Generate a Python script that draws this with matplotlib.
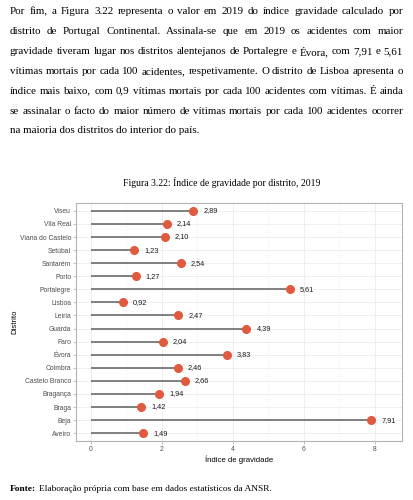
import matplotlib
matplotlib.use('Agg')
import matplotlib.pyplot as plt

# dados do gráfico
distritos = ['Aveiro', 'Beja', 'Braga', 'Bragança', 'Castelo Branco', 'Coimbra', 'Évora',
             'Faro', 'Guarda', 'Leiria', 'Lisboa', 'Portalegre', 'Porto', 'Santarém',
             'Setúbal', 'Viana do Castelo', 'Vila Real', 'Viseu']
indice = [1.49, 7.91, 1.42, 1.94, 2.66, 2.46, 3.83, 2.04, 4.39, 2.47, 0.92, 5.61, 1.27,
          2.54, 1.23, 2.10, 2.14, 2.89]
xticks = [0, 2, 4, 6, 8]

paragrafo = [
    "Por fim, a Figura 3.22 representa o valor em 2019 do índice gravidade calculado por",
    "distrito de Portugal Continental. Assinala-se que em 2019 os acidentes com maior",
    "gravidade tiveram lugar nos distritos alentejanos de Portalegre e Évora, com 7,91 e 5,61",
    "vítimas mortais por cada 100 acidentes, respetivamente. O distrito de Lisboa apresenta o",
    "índice mais baixo, com 0,9 vítimas mortais por cada 100 acidentes com vítimas. É ainda",
    "se assinalar o facto do maior número de vítimas mortais por cada 100 acidentes ocorrer",
    "na maioria dos distritos do interior do país.",
]
legenda = "Figura 3.22: Índice de gravidade por distrito, 2019"
fonte_txt = "Elaboração própria com base em dados estatísticos da ANSR."

W, H = 413, 500
fig = plt.figure(figsize=(W / 100, H / 100), dpi=100)
renderer = fig.canvas.get_renderer()

serif = 'Liberation Serif'
sans = 'Liberation Sans'


def largura(s, fs, **kw):
    t = fig.text(0, 0, s, family=serif, fontsize=fs, **kw)
    w = t.get_window_extent(renderer).width
    t.remove()
    return w


# tamanho do texto: a linha mais apertada cabe em 393 px
x0, x1 = 10, 403
fs = min(10 * (x1 - x0) / largura(l, 10) for l in paragrafo[:-1]) * 0.995

for i, linha in enumerate(paragrafo):
    y = 1 - (12 + i * 19.8) / H
    palavras = linha.split(' ')
    if i == len(paragrafo) - 1:
        fig.text(x0 / W, y, linha, family=serif, fontsize=fs, va='center', ha='left')
        continue
    objs = [fig.text(0, y, p, family=serif, fontsize=fs, va='center', ha='left') for p in palavras]
    larg = [o.get_window_extent(renderer).width for o in objs]
    gap = (x1 - x0 - sum(larg)) / (len(palavras) - 1)
    x = x0
    for o, w in zip(objs, larg):
        o.set_x(x / W)
        x += w + gap

fs_leg = 10 * 197 / largura(legenda, 10)
fig.text(221.5 / W, 1 - 182 / H, legenda, family=serif, fontsize=fs_leg, ha='center', va='center')

fs_f = 10 * 257 / largura("Fonte: " + fonte_txt, 10)
fonte = fig.text(10 / W, 1 - 489 / H, "Fonte:", family=serif, fontsize=fs_f,
                 fontweight='bold', ha='left', va='center')
wf = fonte.get_window_extent(renderer).width
fig.text((10 + wf + 2.5) / W, 1 - 489 / H, fonte_txt,
         family=serif, fontsize=fs_f, ha='left', va='center')

# painel
ax = fig.add_axes([76 / W, (H - 441) / H, (402 - 76) / W, (441 - 203) / H])
pos = list(range(len(distritos)))
ax.hlines(pos, 0, indice, color='#5f5f5f', linewidth=1.1, zorder=2)
ax.plot(indice, pos, 'o', color='#e05a40', markersize=5.5, zorder=3)
for p, v in zip(pos, indice):
    ax.text(v + 0.28, p, f"{v:.2f}".replace('.', ','), family=sans, fontsize=5.3,
            va='center', ha='left', color='#1a1a1a')

ax.set_xlim(-0.41, 8.77)
ax.set_ylim(-0.6, len(distritos) - 0.4)
ax.set_xticks(xticks)
ax.set_xticks([1, 3, 5, 7], minor=True)
ax.set_yticks(pos)
ax.set_yticklabels(distritos)
ax.grid(True, which='major', color='#ebebeb', linewidth=0.6, zorder=0)
ax.grid(True, which='minor', axis='x', color='#f4f4f4', linewidth=0.4, zorder=0)
ax.set_axisbelow(True)
ax.tick_params(axis='both', which='major', labelsize=4.9, labelcolor='#4d4d4d',
               color='#b3b3b3', length=2, width=0.6, pad=1.5)
ax.tick_params(axis='x', which='minor', length=0)
for lab in ax.get_xticklabels() + ax.get_yticklabels():
    lab.set_family(sans)
for s in ax.spines.values():
    s.set_color('#b3b3b3')
    s.set_linewidth(0.8)

ax.set_xlabel("Índice de gravidade", family=sans, fontsize=5.6, labelpad=2)
fig.text(15 / W, 1 - 322 / H, "Distrito", family=sans, fontsize=5.6, rotation=90,
         ha='center', va='center')

fig.savefig('out.png', dpi=100, facecolor='white')
